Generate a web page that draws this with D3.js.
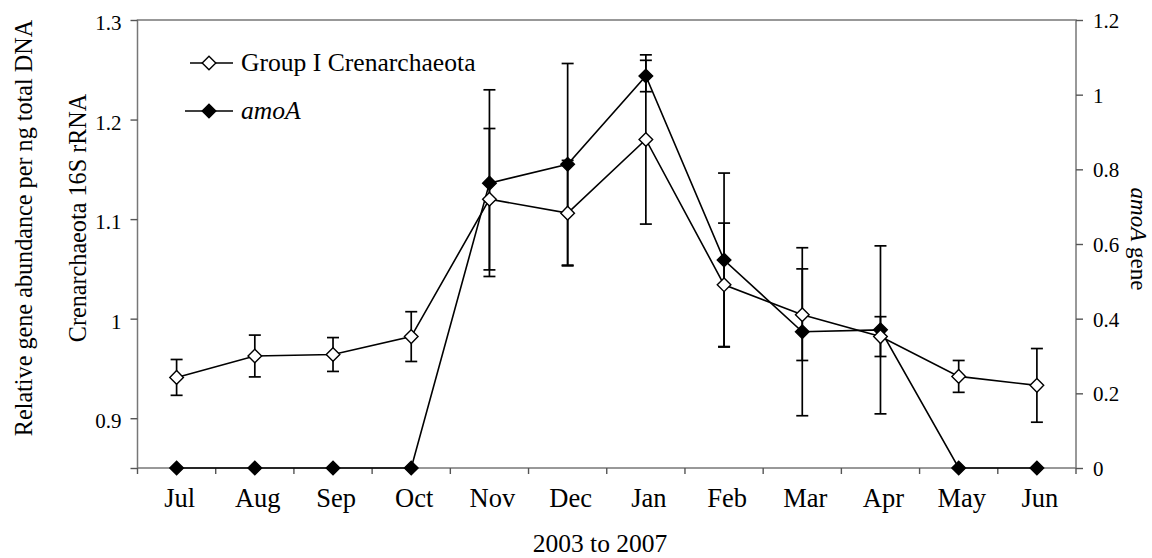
<!DOCTYPE html>
<html>
<head>
<meta charset="utf-8">
<script src="https://cdn.jsdelivr.net/npm/d3@7"></script>
<style>
body { margin: 0; background: #fff; }
</style>
</head>
<body>
<div id="chart"></div>
<script>
var months = ["Jul", "Aug", "Sep", "Oct", "Nov", "Dec", "Jan", "Feb", "Mar", "Apr", "May", "Jun"];
var crenValues = [0.941, 0.9625, 0.964, 0.982, 1.120, 1.106, 1.180, 1.034, 1.004, 0.982, 0.942, 0.933];
var crenErr = [0.018, 0.021, 0.017, 0.025, 0.071, 0.053, 0.085, 0.062, 0.046, 0.020, 0.016, 0.037];
var amoaValues = [0, 0, 0, 0, 0.763, 0.8135, 1.050, 0.557, 0.365, 0.370, 0, 0];
var amoaErr = [0, 0, 0, 0, 0.25, 0.27, 0.042, 0.233, 0.225, 0.225, 0, 0];
var leftTicks = [0.9, 1.0, 1.1, 1.2, 1.3];
var rightTicks = [0, 0.2, 0.4, 0.6, 0.8, 1.0, 1.2];

function init() {
    createChart();
}

function createChart() {
    var width = 1152, height = 558,
        left = 137.5, right = 1076, top = 20, bottom = 468,
        font = "Liberation Serif", axisCol = "#777";

    var svg = d3.select("div#chart").append("svg")
        .attr("width", width)
        .attr("height", height);

    var x = d3.scaleBand().domain(months).range([left, right]);
    var yL = d3.scaleLinear().domain([0.85, 1.3]).range([bottom, top]);
    var yR = d3.scaleLinear().domain([0, 1.2]).range([bottom, top]);
    var cx = function(i) { return x(months[i]) + x.bandwidth() / 2; };

    // frame
    svg.append("rect")
        .attr("x", left).attr("y", top)
        .attr("width", right - left).attr("height", bottom - top)
        .attr("fill", "none").attr("stroke", axisCol).attr("stroke-width", 1.5);

    // left axis
    var gl = svg.append("g").attr("transform", "translate(" + left + ",0)")
        .call(d3.axisLeft(yL).tickValues(leftTicks.concat([0.85])).tickSize(7).tickFormat(function(d) {
            return d == 0.85 ? "" : d3.format("")(d);
        }));
    gl.attr("font-family", null);
    gl.select(".domain").remove();
    gl.selectAll("line").attr("stroke", "#555").attr("stroke-width", 1.4);
    gl.selectAll("text").attr("font-size", 21).attr("x", -16).attr("dy", "0.45em").attr("fill", "#000");

    // right axis
    var gr = svg.append("g").attr("transform", "translate(" + right + ",0)")
        .call(d3.axisRight(yR).tickValues(rightTicks).tickSize(7).tickFormat(d3.format("")));
    gr.attr("font-family", null);
    gr.select(".domain").remove();
    gr.selectAll("line").attr("stroke", "#555").attr("stroke-width", 1.4);
    gr.selectAll("text").attr("font-size", 21).attr("x", 17).attr("dy", "0.36em").attr("fill", "#000");

    // bottom ticks at band boundaries
    var bounds = months.map(function(m) { return x(m); }).concat([right]);
    svg.append("g").selectAll("line").data(bounds).enter().append("line")
        .attr("x1", function(d) { return d; }).attr("x2", function(d) { return d; })
        .attr("y1", bottom).attr("y2", bottom + 6)
        .attr("stroke", "#555").attr("stroke-width", 1.4);

    svg.append("g").selectAll("text").data(months).enter().append("text")
        .attr("x", function(d, i) { return cx(i) + 3; })
        .attr("y", 507)
        .attr("text-anchor", "middle")
        .attr("font-size", 26.5)
        .text(function(d) { return d; });

    // titles
    svg.append("text")
        .attr("transform", "translate(32,228) rotate(-90)")
        .attr("text-anchor", "middle").attr("font-size", 24.2)
        .text("Relative gene abundance per ng total DNA");
    svg.append("text")
        .attr("transform", "translate(86,218) rotate(-90)")
        .attr("text-anchor", "middle").attr("font-size", 24.2)
        .text("Crenarchaeota 16S rRNA");
    var rt = svg.append("text")
        .attr("transform", "translate(1131,239) rotate(90)")
        .attr("text-anchor", "middle").attr("font-size", 23);
    rt.append("tspan").attr("font-style", "italic").text("amoA");
    rt.append("tspan").text(" gene");
    svg.append("text")
        .attr("x", 600).attr("y", 552)
        .attr("text-anchor", "middle").attr("font-size", 25.5)
        .text("2003 to 2007");

    var diamond = d3.symbol().type(d3.symbolDiamond2).size(118);

    // error bars
    function errBars(vals, errs, y) {
        var g = svg.append("g");
        vals.forEach(function(v, i) {
            if (errs[i] <= 0) return;
            var x0 = cx(i), y1 = y(v + errs[i]), y2 = y(v - errs[i]);
            g.append("line").attr("x1", x0).attr("x2", x0).attr("y1", y1).attr("y2", y2);
            g.append("line").attr("x1", x0 - 6).attr("x2", x0 + 6).attr("y1", y1).attr("y2", y1);
            g.append("line").attr("x1", x0 - 6).attr("x2", x0 + 6).attr("y1", y2).attr("y2", y2);
        });
        g.selectAll("line").attr("stroke", "#000").attr("stroke-width", 1.7);
    }
    errBars(amoaValues, amoaErr, yR);
    errBars(crenValues, crenErr, yL);

    function series(vals, y, fill) {
        var line = d3.line().x(function(d, i) { return cx(i); }).y(function(d) { return y(d); });
        svg.append("path").datum(vals).attr("d", line)
            .attr("fill", "none").attr("stroke", "#000").attr("stroke-width", 1.6);
        svg.append("g").selectAll("path").data(vals).enter().append("path")
            .attr("d", diamond)
            .attr("transform", function(d, i) { return "translate(" + cx(i) + "," + y(d) + ")"; })
            .attr("fill", fill).attr("stroke", "#000").attr("stroke-width", 1.4);
    }
    series(amoaValues, yR, "#000");
    series(crenValues, yL, "#fff");

    // legend
    var leg = [{ name: "Group I Crenarchaeota", fill: "#fff", y: 63, x1: 190, italic: false },
               { name: "amoA", fill: "#000", y: 111, x1: 185, italic: true }];
    leg.forEach(function(d) {
        svg.append("line").attr("x1", d.x1).attr("x2", 233).attr("y1", d.y).attr("y2", d.y)
            .attr("stroke", "#000").attr("stroke-width", 1.6);
        svg.append("path").attr("d", diamond)
            .attr("transform", "translate(209," + d.y + ")")
            .attr("fill", d.fill).attr("stroke", "#000").attr("stroke-width", 1.4);
        svg.append("text").attr("x", 241).attr("y", d.y + 8)
            .attr("font-size", 25.6)
            .attr("font-style", d.italic ? "italic" : "normal")
            .text(d.name);
    });

    // serif on every text (set directly, not inherited)
    svg.selectAll("text, tspan").attr("font-family", font).style("font-family", "'Liberation Serif', 'Times New Roman', serif");
}

init();
</script>
</body>
</html>
